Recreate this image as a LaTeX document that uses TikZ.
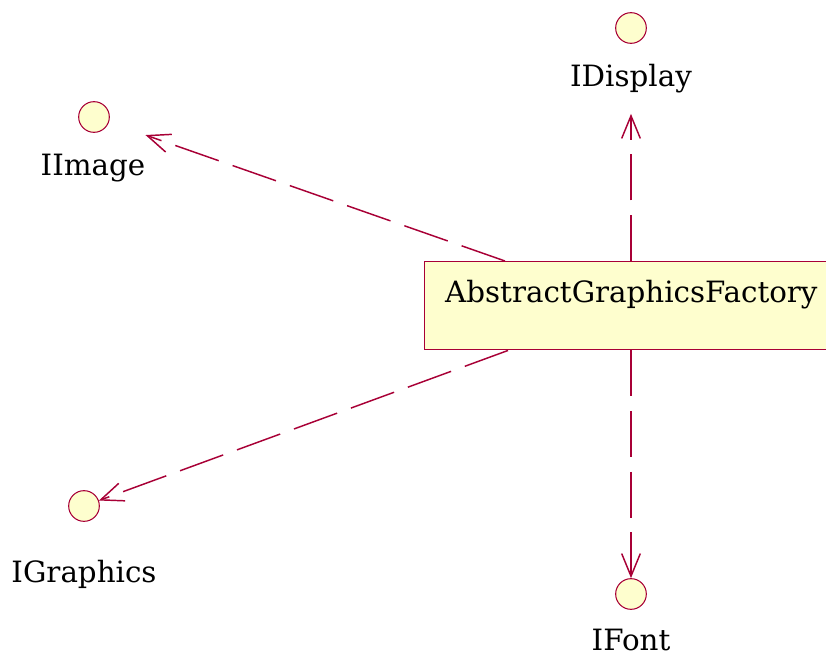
\documentclass[tikz,border=0pt]{standalone}
\usepackage{fontspec}
\setmainfont{DejaVu Serif}
\usetikzlibrary{arrows.meta}
\definecolor{umlborder}{HTML}{A80036}
\definecolor{umlfill}{HTML}{FEFECE}
\begin{document}
\begin{tikzpicture}[
            x = 0.75pt, y = -0.75pt, % one unit is one pixel, y going down
            > = {Straight Barb[length=17pt, width=14pt]}, % open arrow head
            line width = 1.1pt
        ]

        \tikzstyle{iface}=[
            circle,
            draw = umlborder,
            fill = umlfill,
            line width = 0.8pt,
            minimum size = 23pt,
            inner sep = 0pt
        ]
        \tikzstyle{ilabel}=[
            anchor = base,
            inner sep = 0pt,
            font = \fontsize{22}{26}\selectfont
        ]
        \tikzstyle{dep}=[
            ->,
            draw = umlborder,
            dash pattern = on 34.5pt off 11pt
        ]

    \useasboundingbox (0, 0) rectangle (826, 657);
    \clip (0, 0) rectangle (826, 657);

    % Factory class box
    \node[draw = umlborder, fill = umlfill, anchor = north west,
          minimum width = 310pt, inner xsep = 0pt, inner ysep = 0pt,
          text height = 30.75pt, text depth = 35.25pt,
          font = \fontsize{22}{26}\selectfont] (agf) at (424, 261) {AbstractGraphicsFactory};

    % Interfaces
    \node[iface] (display) at (631, 28) {};
    \node[iface] (image) at (94, 117) {};
    \node[iface] (graphics) at (84, 506) {};
    \node[iface] (font) at (631, 594) {};

    \node[ilabel] (displaylbl) at (631, 86) {IDisplay};
    \node[ilabel] (imagelbl) at (93, 175) {IImage};
    \node[ilabel] (graphicslbl) at (84, 582) {IGraphics};
    \node[ilabel] (fontlbl) at (631, 650) {IFont};

    % Dependencies
    \draw[dep, shorten > = 52.5pt] (agf.north -| display) -- (display);
    \draw[dep, shorten > = 29pt] (agf.north west -| 505, 0) -- (image);
    \draw[dep] (agf.south west -| 508, 0) -- (graphics);
    \draw[dep] (agf.south -| font) -- (font);
\end{tikzpicture}
\end{document}
